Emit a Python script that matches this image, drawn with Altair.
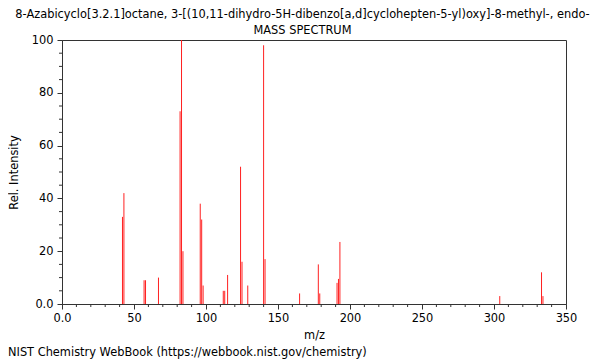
import altair as alt
import pandas as pd

title_lines = ["8-Azabicyclo[3.2.1]octane, 3-[(10,11-dihydro-5H-dibenzo[a,d]cyclohepten-5-yl)oxy]-8-methyl-, endo-",
               "MASS SPECTRUM"]
footer = "NIST Chemistry WebBook (https://webbook.nist.gov/chemistry)"

mz = [42, 43, 57, 58, 67, 82, 83, 84, 96, 97, 98, 112, 113, 115, 124, 125, 129,
      140, 141, 165, 178, 179, 191, 192, 193, 304, 333, 334]
intensity = [33, 42, 9, 9, 10, 73, 100, 20, 38, 32, 7, 5, 5, 11, 52, 16, 7,
             98, 17, 4, 15, 4, 8, 9.5, 23.5, 3, 12, 3]

x_major = [0, 50, 100, 150, 200, 250, 300, 350]
x_minor = [v for v in range(0, 351, 10) if v % 50 != 0]
y_major = [0, 20, 40, 60, 80, 100]
y_minor = [v for v in range(0, 101, 5) if v % 20 != 0]

FONT = "DejaVu Sans"
FS = 11.4
AX = "#333333"

peaks = pd.DataFrame({"mz": mz, "intensity": intensity})
xscale = alt.Scale(domain=[0, 350], nice=False, zero=False)
yscale = alt.Scale(domain=[0, 100], nice=False)

xaxis = alt.Axis(values=x_major, tickSize=5, labelExpr="datum.value == 0 ? '0.0' : datum.label",
                 grid=False, title="m/z", labelFontSize=FS, titleFontSize=FS,
                 labelFont=FONT, titleFont=FONT, titleFontWeight="normal",
                 labelColor="black", titleColor="black", domainColor=AX, tickColor=AX,
                 labelPadding=3, titlePadding=6, labelFlush=False)
yaxis = alt.Axis(values=y_major, tickSize=5, labelExpr="datum.value == 0 ? '0.0' : datum.label",
                 grid=False, title="Rel. Intensity", labelFontSize=FS, titleFontSize=FS,
                 labelFont=FONT, titleFont=FONT, titleFontWeight="normal",
                 labelColor="black", titleColor="black", domainColor=AX, tickColor=AX,
                 labelPadding=4, titlePadding=12, labelFlush=False)

bars = alt.Chart(peaks).mark_rule(color="#ff2020", strokeWidth=1).encode(
    x=alt.X("mz:Q", scale=xscale, axis=xaxis),
    y=alt.Y("intensity:Q", scale=yscale, axis=yaxis),
    y2=alt.datum(0),
)

xmin = alt.Chart(pd.DataFrame({"v": x_minor})).mark_rule(color=AX, strokeWidth=1).encode(
    x=alt.X("v:Q", scale=xscale), y=alt.value(264), y2=alt.value(267))
ymin = alt.Chart(pd.DataFrame({"v": y_minor})).mark_rule(color=AX, strokeWidth=1).encode(
    y=alt.Y("v:Q", scale=yscale), x=alt.value(-3), x2=alt.value(0))

foot = alt.Chart(pd.DataFrame({"t": [footer]})).mark_text(
    align="left", baseline="alphabetic", font=FONT, fontSize=FS, color="black"
).encode(text="t:N", x=alt.value(-54), y=alt.value(316))

chart = alt.layer(bars, xmin, ymin, foot).properties(
    width=504, height=264,
    autosize=alt.AutoSizeParams(type="none"),
    padding={"left": 54, "top": 32, "right": 26, "bottom": 56},
    title=alt.TitleParams(text=title_lines, fontSize=FS, font=FONT, fontWeight="normal",
                          color="black", anchor="middle", frame="group", dx=-11.5,
                          offset=-2, lineHeight=16),
).configure_view(stroke=AX, strokeWidth=1)

chart.save("out.html", embed_options={"renderer": "svg", "actions": False})
